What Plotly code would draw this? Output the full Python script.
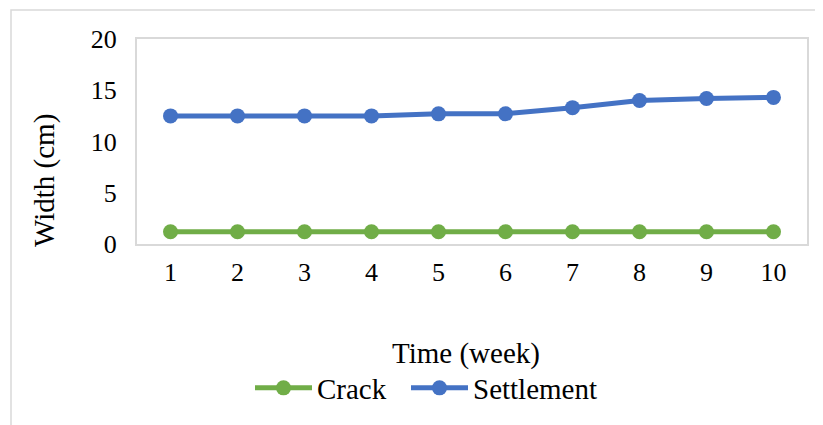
import plotly.graph_objects as go

weeks = ["1", "2", "3", "4", "5", "6", "7", "8", "9", "10"]
crack = [1.2, 1.2, 1.2, 1.2, 1.2, 1.2, 1.2, 1.2, 1.2, 1.2]
settlement = [12.5, 12.5, 12.5, 12.5, 12.7, 12.7, 13.3, 14.0, 14.2, 14.3]
y_ticks = [0, 5, 10, 15, 20]

FONT = "Liberation Serif, Times New Roman, serif"

# page body has an 8px margin, so figure is drawn 8px smaller and offset
OFF = 8
PL, PR, PT, PB = 137, 807, 39, 244  # target plot box in window pixels
W, H = 823 - OFF, 425 - OFF
pw, ph = PR - PL, PB - PT

def px(x):
    return (x - PL) / pw

def py(y):
    return (PB - y) / ph

fig = go.Figure()
fig.add_trace(go.Scatter(x=weeks, y=crack, name="Crack", mode="lines+markers",
                         line=dict(color="#70AD47", width=5),
                         marker=dict(color="#70AD47", size=15), legend="legend"))
fig.add_trace(go.Scatter(x=weeks, y=settlement, name="Settlement", mode="lines+markers",
                         line=dict(color="#4472C4", width=5),
                         marker=dict(color="#4472C4", size=15), legend="legend2"))

leg_common = dict(orientation="h", xanchor="left", y=py(388), yanchor="middle",
                  font=dict(size=29), itemwidth=57, bgcolor="rgba(0,0,0,0)")

fig.update_layout(
    width=W, height=H,
    margin=dict(l=PL - OFF, r=W - (PR - OFF), t=PT - OFF, b=H - (PB - OFF)),
    paper_bgcolor="white", plot_bgcolor="white",
    font=dict(family=FONT, size=26, color="black"),
    showlegend=True,
    legend=dict(x=px(250), **leg_common),
    legend2=dict(x=px(406), **leg_common),
    xaxis=dict(type="category", range=[-0.5, 9.5], showline=True, mirror=True,
               linecolor="#d9d9d9", linewidth=2, showgrid=False, zeroline=False,
               ticks="", ticklabelstandoff=4, tickfont=dict(size=26)),
    yaxis=dict(range=[0, 20], tickvals=y_ticks, showline=True, mirror=True,
               linecolor="#d9d9d9", linewidth=2, showgrid=False, zeroline=False,
               ticks="", ticklabelstandoff=13, tickfont=dict(size=26)),
    shapes=[dict(type="rect", xref="paper", yref="paper",
                 x0=px(11), x1=px(840), y0=py(440), y1=py(10),
                 line=dict(color="#d9d9d9", width=1.5), layer="below")],
    annotations=[
        dict(text="Time (week)", xref="paper", yref="paper", x=px(466),
             y=py(353), xanchor="center", yanchor="middle",
             showarrow=False, font=dict(size=29)),
        dict(text="Width (cm)", xref="paper", yref="paper", x=px(44),
             y=py(181), xanchor="center", yanchor="middle", textangle=-90,
             showarrow=False, font=dict(size=29)),
    ],
)

fig.write_html("out.html")
